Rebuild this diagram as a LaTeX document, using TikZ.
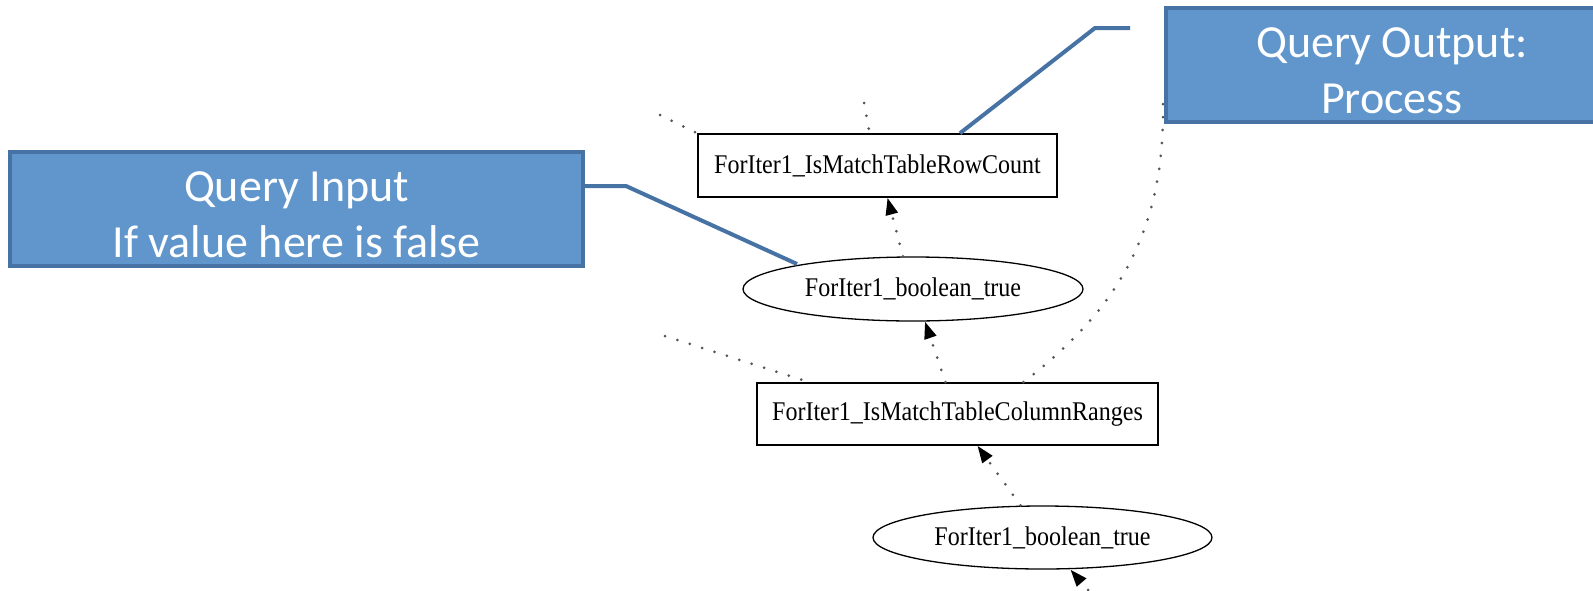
\documentclass[tikz,border=0pt]{standalone}
\usepackage{fontspec}
\setmainfont{Liberation Serif}
\newfontfamily\calloutfont{Carlito}
\usetikzlibrary{shapes.geometric,arrows.meta,calc}
\definecolor{qfill}{RGB}{96,150,203}
\definecolor{qline}{RGB}{70,114,164}
\definecolor{dotgray}{RGB}{85,85,85}
\begin{document}
\begin{tikzpicture}[x=1pt,y=-1pt,
  gvbox/.style={draw=black, line width=1.6pt, rectangle, inner sep=0pt, font=\fontsize{27}{30}\selectfont},
  gvell/.style={draw=black, line width=1.3pt, ellipse, inner sep=0pt, font=\fontsize{27}{30}\selectfont},
  qbox/.style={draw=qline, line width=4pt, fill=qfill, text=white, align=center, inner sep=0pt, font=\calloutfont\fontsize{46}{56}\selectfont},
  callout/.style={draw=qline, line width=4pt},
  gvdot/.style={draw=dotgray, line width=3pt, dash pattern=on 0pt off 13pt, line cap=round},
  gvedge/.style={gvdot, -{Triangle[length=17pt,width=12pt,color=black]}}
]
\useasboundingbox (0,0) rectangle (1593,590);
\clip (0,0) rectangle (1593,590);

% graph nodes
\node[gvbox, minimum width=359pt, minimum height=63pt] (rowcount) at (877.5,165.5) {\scalebox{0.89}[1]{ForIter1\_IsMatchTableRowCount}};
\node[gvell, minimum width=340pt, minimum height=64pt] (bool1) at (913,289) {\scalebox{0.89}[1]{ForIter1\_boolean\_true}};
\node[gvbox, minimum width=401pt, minimum height=62pt] (colranges) at (957.5,414) {\scalebox{0.89}[1]{ForIter1\_IsMatchTableColumnRanges}};
\node[gvell, minimum width=339pt, minimum height=63pt] (bool2) at (1042.5,537.5) {\scalebox{0.89}[1]{ForIter1\_boolean\_true}};

% free ends
\coordinate (c1) at (660,115);
\coordinate (c2) at (864,103);
\coordinate (c3) at (665,336);
\coordinate (c4) at (1088,590);
\coordinate (c5) at (1163,104);
\coordinate (qoutstub) at (1130,28);

% graph edges
\draw[gvdot] (c1) -- (rowcount.north west);
\draw[gvdot] (c2) -- ($(rowcount.north)+(-8,0)$);
\draw[gvedge] ($(bool1.north)+(-10,0)$) -- ($(rowcount.south)+(10,0)$);
\draw[gvedge] ($(colranges.north)+(-12,0)$) -- ($(bool1.south)+(12,0)$);
\draw[gvdot] (c3) -- ($(colranges.north west)+(53,0)$);
\draw[gvdot] ($(colranges.north)+(66,0)$) .. controls (1110,315) and (1165,240) .. (c5);
\draw[gvedge] ($(bool2.north)+(-22,0)$) -- ($(colranges.south)+(20,0)$);
\draw[gvedge] (c4) -- ($(bool2.south)+(28,0)$);

% callouts
\node[qbox, minimum width=573pt, minimum height=114pt] (qin) at (296.5,209) {\rule{0pt}{42pt}Query Input\\If value here is false};
\node[qbox, minimum width=452pt, minimum height=114pt] (qout) at (1392,65) {\rule{0pt}{42pt}Query Output:\\Process};
\draw[callout] ($(qin.east)+(0,-23)$) -- ++(41,0) -- ($(bool1.center)+(-116,-25)$);
\draw[callout] (qoutstub) -- ++(-35,0) -- ($(rowcount.north)+(82.5,0)$);
\end{tikzpicture}
\end{document}
